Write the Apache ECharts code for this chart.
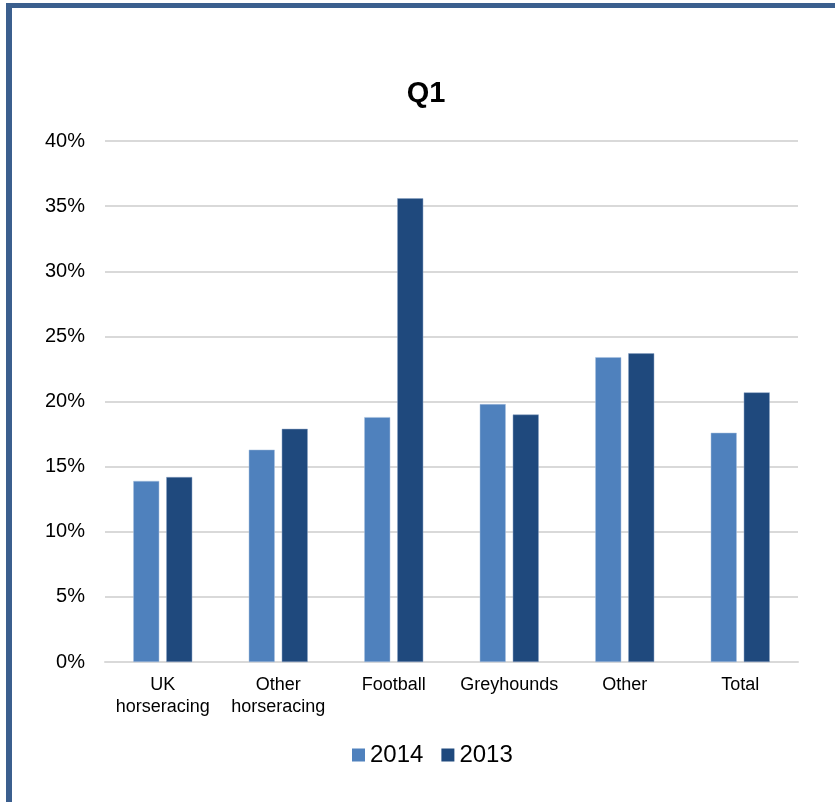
<!DOCTYPE html>
<html>
<head>
<meta charset="utf-8">
<script src="https://cdn.jsdelivr.net/npm/echarts@6/dist/echarts.min.js"></script>
<style>
	html, body { margin: 0; padding: 0; background: #fff; }
	#q1Chart { width: 835px; height: 802px; }
</style>
</head>
<body>
<div id="q1Chart"></div>
<script>
var categories = ['UK\nhorseracing', 'Other\nhorseracing', 'Football', 'Greyhounds', 'Other', 'Total'];
var vals2014 = [13.9, 16.3, 18.8, 19.8, 23.4, 17.6];
var vals2013 = [14.2, 17.9, 35.6, 19.0, 23.7, 20.7];
var yTicks = [0, 5, 10, 15, 20, 25, 30, 35, 40];

var chart = echarts.init(document.getElementById('q1Chart'));
chart.setOption({
	animation: false,
	textStyle: { fontFamily: 'Liberation Sans, Arial, sans-serif' },
	title: {
		text: 'Q1',
		left: 421,
		top: 74,
		textAlign: 'center',
		textStyle: { fontSize: 29, fontWeight: 'bold', color: '#000' }
	},
	// frame lines on left and top, like the original picture
	graphic: [
		{ type: 'rect', shape: { x: 6, y: 3, width: 829, height: 5 }, style: { fill: '#3b5f8e' } },
		{ type: 'rect', shape: { x: 6, y: 3, width: 6, height: 799 }, style: { fill: '#3b5f8e' } }
	],
	grid: { left: 105, right: 37, top: 141, bottom: 140 },
	legend: {
		data: ['2014', '2013'],
		bottom: 30,
		left: 347,
		itemWidth: 13,
		itemHeight: 13,
		itemGap: 18,
		icon: 'rect',
		itemStyle: { borderWidth: 0 },
		textStyle: { fontSize: 24, color: '#000', padding: [0, 0, 0, 0] }
	},
	xAxis: {
		type: 'category',
		data: categories,
		axisTick: { show: false },
		axisLine: { lineStyle: { color: '#d9d9d9', width: 2 } },
		axisLabel: { fontSize: 18, color: '#000', lineHeight: 22, margin: 12, interval: 0 }
	},
	yAxis: {
		type: 'value',
		min: yTicks[0],
		max: yTicks[yTicks.length - 1],
		interval: 5,
		axisLabel: { formatter: '{value}%', fontSize: 20, color: '#000', margin: 20 },
		splitLine: { lineStyle: { color: '#d9d9d9', width: 2 } },
		axisLine: { show: false },
		axisTick: { show: false }
	},
	series: [
		{
			name: '2014',
			type: 'bar',
			data: vals2014,
			barWidth: '22.5%',
			barGap: '27%',
			itemStyle: { color: '#4f81bd', borderColor: '#a9c0de', borderWidth: 0.5 }
		},
		{
			name: '2013',
			type: 'bar',
			data: vals2013,
			barWidth: '22.5%',
			itemStyle: { color: '#1f497d', borderColor: '#8aa3c4', borderWidth: 0.5 }
		}
	]
});
</script>
</body>
</html>
